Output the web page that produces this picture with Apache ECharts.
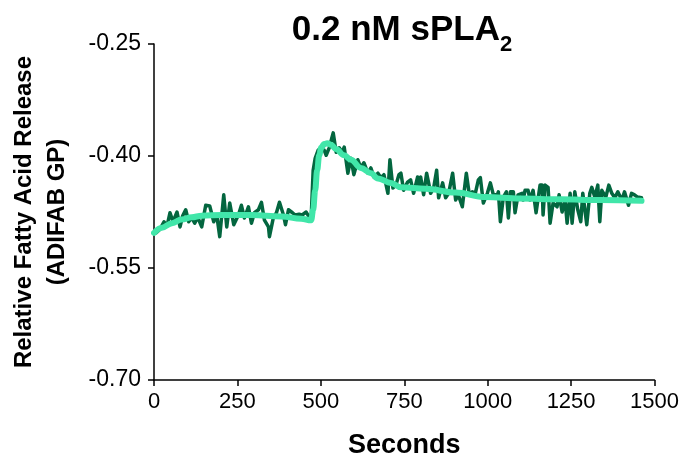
<!DOCTYPE html>
<html>
<head>
<meta charset="utf-8">
<script src="https://cdn.jsdelivr.net/npm/echarts@6/dist/echarts.min.js"></script>
<style>html,body{margin:0;padding:0;background:#fff}#c{width:682px;height:466px}</style>
</head>
<body>
<div id="c"></div>
<script>
var rawSeconds = [0,6,18,30,39,48,57,69,78,86,95,104,113,122,131,143,155,167,179,188,197,209,218,227,239,253,262,271,283,292,301,313,322,331,343,346,358,367,376,388,394,403,415,423,435,444,456,465,471,477,483,492,501,510,516,525,537,546,555,564,570,581,590,599,611,620,629,641,650,659,671,680,689,701,707,716,725,734,740,748,760,769,778,790,796,799,808,817,823,829,838,847,853,865,874,883,895,904,912,924,936,945,954,963,972,978,987,999,1008,1017,1029,1032,1038,1047,1056,1062,1068,1077,1082,1091,1103,1106,1112,1121,1127,1136,1145,1157,1163,1166,1172,1181,1187,1196,1208,1214,1223,1232,1238,1247,1253,1261,1270,1279,1285,1297,1306,1312,1321,1330,1336,1342,1354,1363,1372,1381,1390,1402,1410,1422,1431,1440,1449,1461];
var rawValues = [-0.504,-0.503,-0.498,-0.488,-0.494,-0.476,-0.488,-0.475,-0.495,-0.480,-0.472,-0.488,-0.483,-0.490,-0.482,-0.495,-0.466,-0.467,-0.488,-0.479,-0.508,-0.452,-0.495,-0.463,-0.492,-0.479,-0.466,-0.483,-0.468,-0.490,-0.476,-0.472,-0.462,-0.486,-0.495,-0.508,-0.482,-0.476,-0.462,-0.479,-0.492,-0.472,-0.476,-0.479,-0.478,-0.479,-0.475,-0.482,-0.483,-0.419,-0.403,-0.392,-0.392,-0.392,-0.399,-0.389,-0.369,-0.395,-0.389,-0.395,-0.388,-0.423,-0.403,-0.425,-0.405,-0.416,-0.409,-0.423,-0.416,-0.428,-0.423,-0.429,-0.425,-0.450,-0.405,-0.443,-0.439,-0.425,-0.423,-0.446,-0.435,-0.432,-0.450,-0.428,-0.443,-0.428,-0.452,-0.423,-0.436,-0.450,-0.443,-0.419,-0.456,-0.436,-0.456,-0.450,-0.423,-0.459,-0.452,-0.468,-0.423,-0.452,-0.448,-0.450,-0.432,-0.429,-0.463,-0.450,-0.436,-0.452,-0.452,-0.448,-0.488,-0.455,-0.448,-0.483,-0.448,-0.448,-0.476,-0.452,-0.450,-0.459,-0.446,-0.446,-0.459,-0.446,-0.476,-0.439,-0.439,-0.479,-0.439,-0.442,-0.490,-0.463,-0.468,-0.452,-0.475,-0.459,-0.490,-0.450,-0.490,-0.448,-0.472,-0.488,-0.450,-0.492,-0.450,-0.442,-0.455,-0.439,-0.488,-0.446,-0.455,-0.439,-0.450,-0.456,-0.448,-0.459,-0.448,-0.466,-0.450,-0.452,-0.455,-0.456];
var fitSeconds = [0,24,54,83,113,143,203,292,382,441,471,477,483,489,495,501,510,519,531,546,570,590,620,650,671,710,740,814,904,993,1097,1217,1336,1461];
var fitValues = [-0.503,-0.496,-0.490,-0.485,-0.482,-0.480,-0.479,-0.479,-0.481,-0.484,-0.486,-0.472,-0.446,-0.419,-0.399,-0.389,-0.384,-0.383,-0.385,-0.391,-0.399,-0.405,-0.416,-0.423,-0.430,-0.436,-0.442,-0.444,-0.449,-0.455,-0.457,-0.458,-0.459,-0.460];
var yTicks = [-0.70,-0.55,-0.40,-0.25];
var xTicks = [0,250,500,750,1000,1250,1500];

function pairs(xs, ys){ return xs.map(function(x,i){ return [x, ys[i]]; }); }

var chart = echarts.init(document.getElementById('c'), null, {renderer:'canvas'});
var font = 'Liberation Sans, Arial, sans-serif';
chart.setOption({
  animation:false,
  backgroundColor:'#fff',
  title:{
    text:'{a|0.2 nM sPLA}{b|2}',
    left:397, top:3, textAlign:'center',
    textStyle:{rich:{
      a:{fontFamily:font,fontWeight:'bold',fontSize:35,color:'#000',verticalAlign:'bottom',lineHeight:40},
      b:{fontFamily:font,fontWeight:'bold',fontSize:22,color:'#000',verticalAlign:'bottom',lineHeight:28,padding:[0,0,-8,0]}
    }}
  },
  grid:{left:152,right:26,top:44,bottom:86,containLabel:false},
  xAxis:{
    type:'value', min:0, max:1500, interval:250,
    name:'Seconds', nameLocation:'middle', nameGap:52,
    nameTextStyle:{fontFamily:font,fontWeight:'bold',fontSize:27,color:'#000'},
    axisLine:{show:true,lineStyle:{color:'#000',width:1.5}},
    axisTick:{show:true,length:6,lineStyle:{color:'#000',width:1.5}},
    axisLabel:{fontFamily:font,fontSize:22,color:'#000',margin:11,
      formatter:function(v){ return String(v); }},
    splitLine:{show:false}
  },
  yAxis:{
    type:'value', min:-0.70, max:-0.25,
    name:'Relative Fatty Acid Release\n(ADIFAB GP)', nameLocation:'middle', nameGap:80,
    nameTextStyle:{fontFamily:font,fontWeight:'bold',fontSize:24,color:'#000',lineHeight:33,align:'center'},
    axisLine:{show:true,lineStyle:{color:'#000',width:1.5}},
    axisTick:{show:true,length:6,lineStyle:{color:'#000',width:1.5},customValues:yTicks},
    axisLabel:{fontFamily:font,fontSize:23,color:'#000',margin:13,customValues:yTicks,
      formatter:function(v){ return v.toFixed(2); }},
    splitLine:{show:false}
  },
  series:[
    {type:'line', data:pairs(rawSeconds, rawValues), showSymbol:false, symbol:'none',
     lineStyle:{color:'#03663f',width:3.5,join:'round',cap:'round'}, z:2},
    {type:'line', data:pairs(fitSeconds, fitValues), showSymbol:false, symbol:'none',
     smooth:0.4, smoothMonotone:'x',
     lineStyle:{color:'#41e6a9',width:6,join:'round',cap:'round'}, z:3}
  ]
});
</script>
</body>
</html>
